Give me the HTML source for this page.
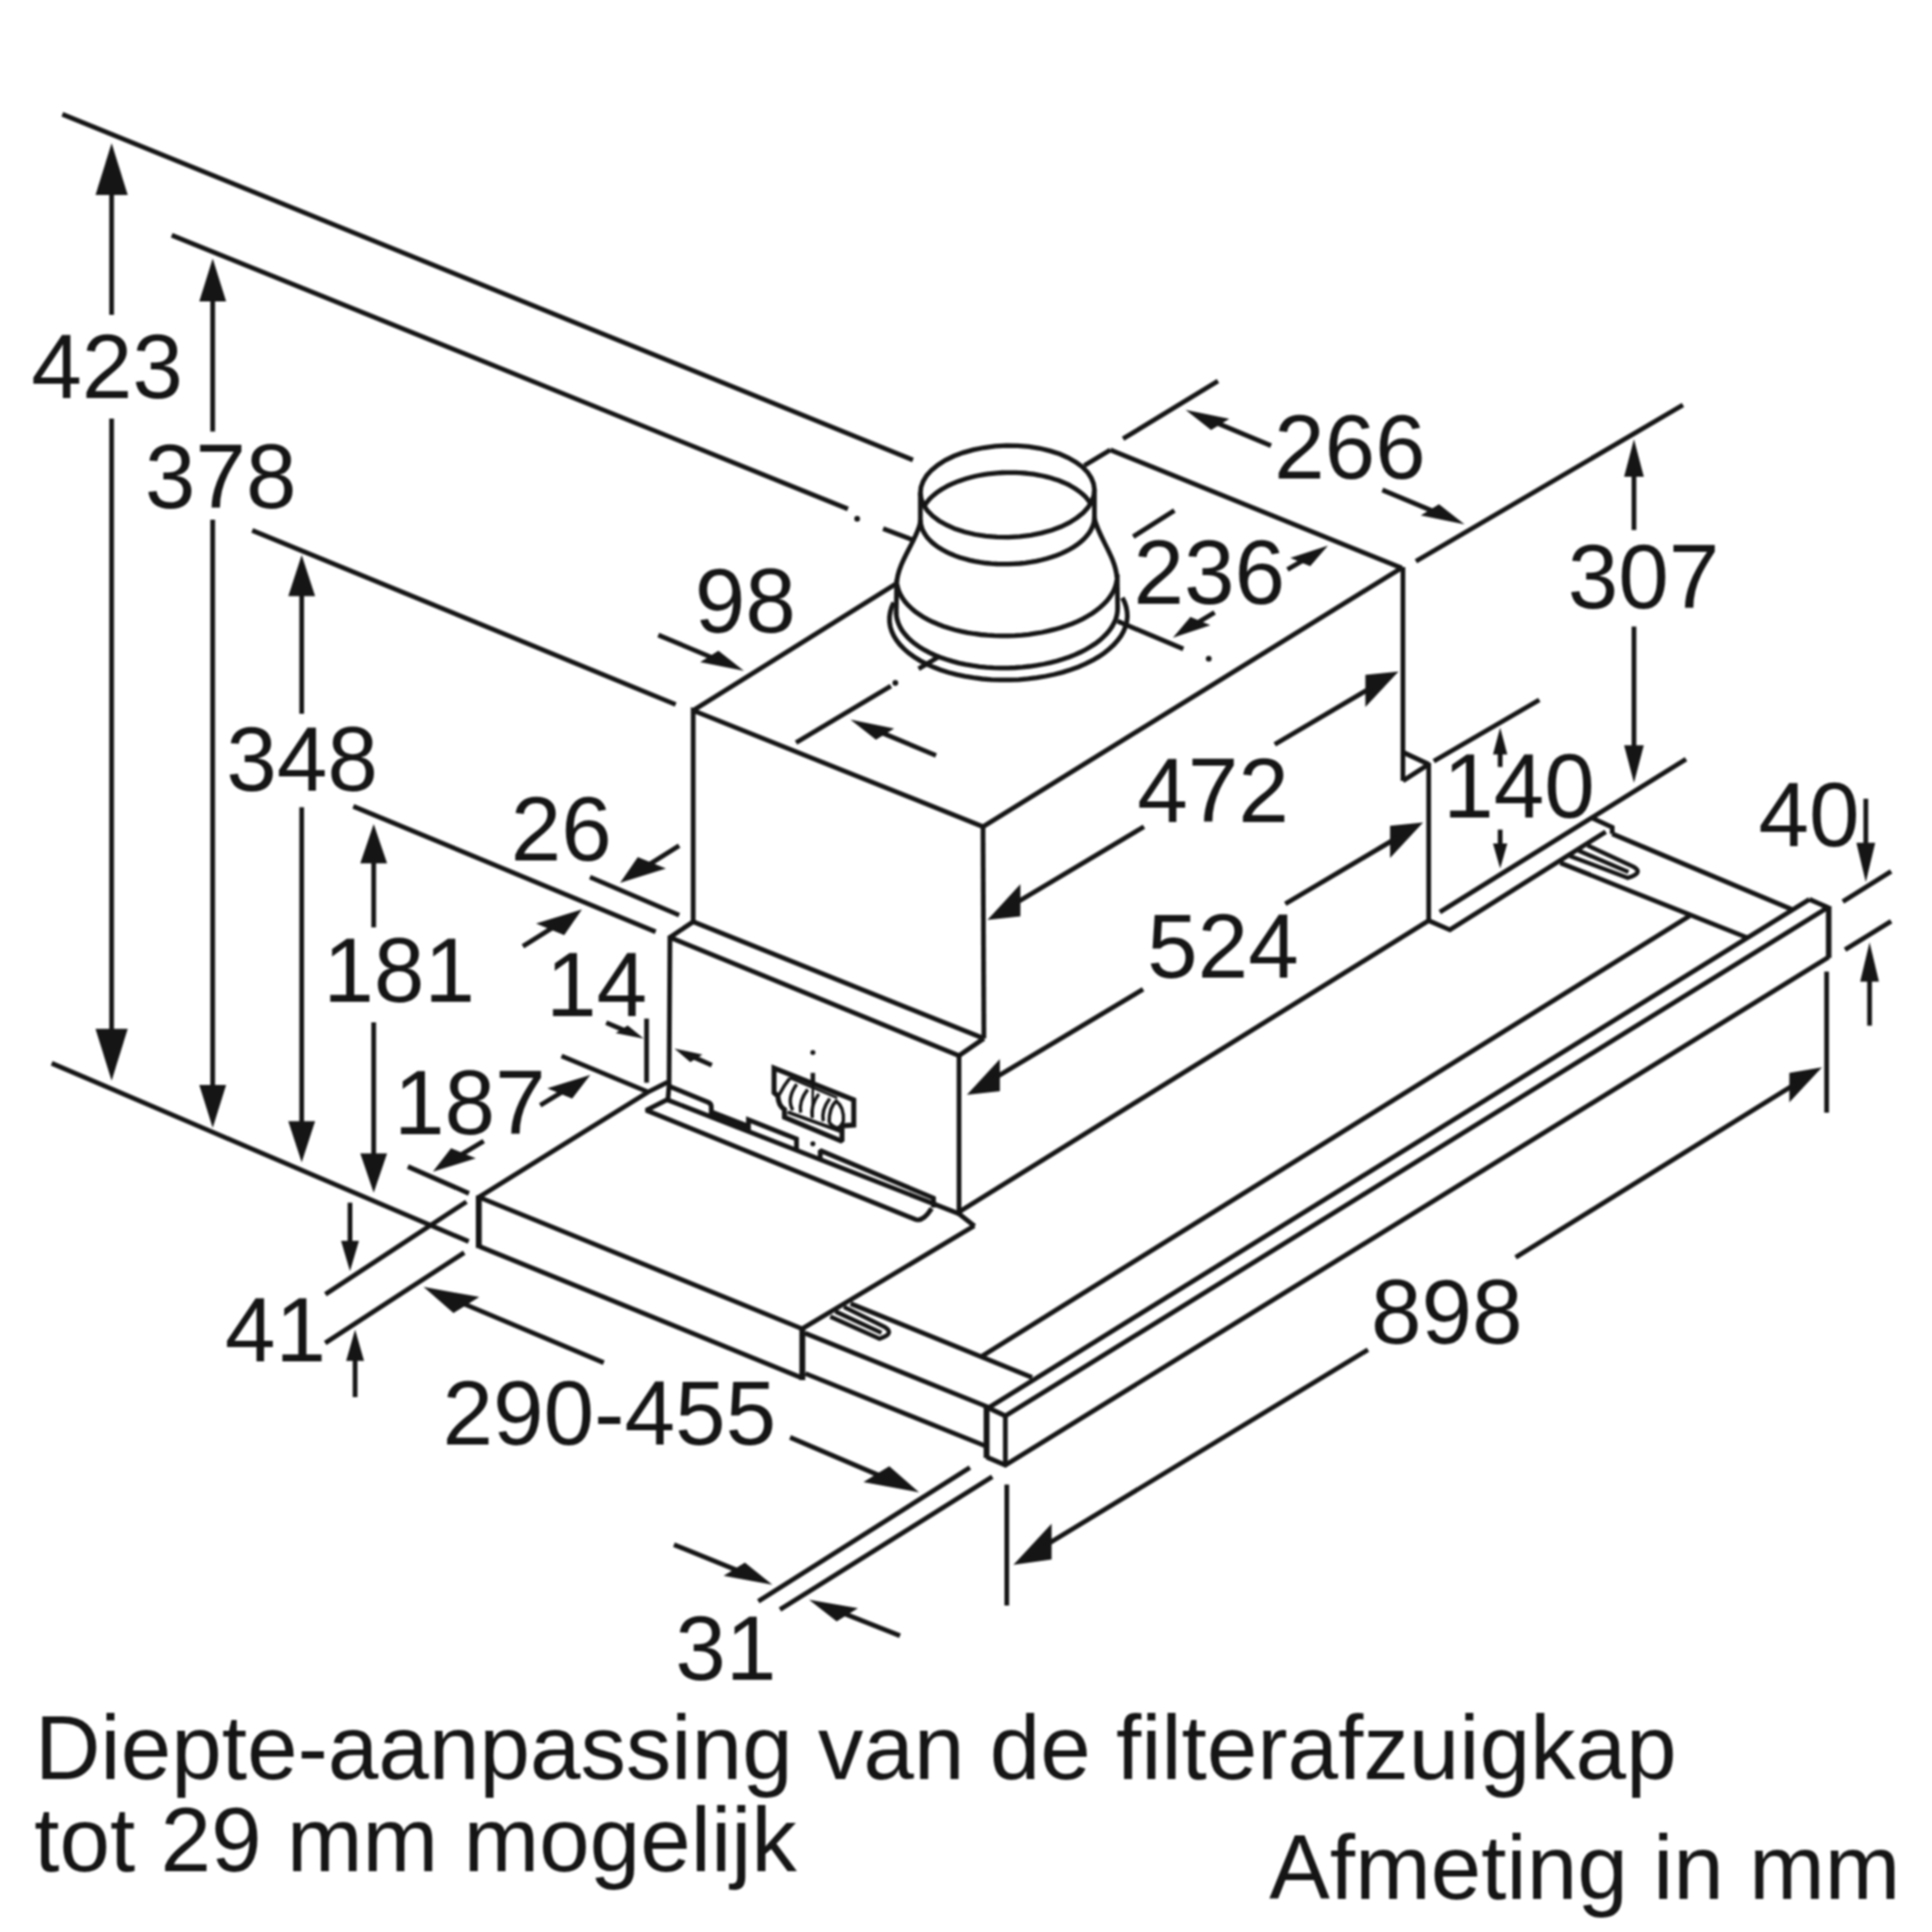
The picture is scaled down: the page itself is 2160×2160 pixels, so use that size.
<!DOCTYPE html>
<html lang="nl">
<head>
<meta charset="utf-8">
<title>Afmeting in mm</title>
<style>
html,body{margin:0;padding:0;background:#fff;}
body{width:2160px;height:2160px;overflow:hidden;}
svg{display:block;filter:blur(0.9px);}
svg line,svg polyline,svg polygon,svg path,svg ellipse{fill:none;stroke:#151515;stroke-width:5.3;stroke-linecap:butt;stroke-linejoin:miter;stroke-miterlimit:1.8;}
svg polygon.h{fill:#151515;stroke:none;}
svg text{font-family:"Liberation Sans",sans-serif;font-size:101.6px;fill:#151515;stroke:none;font-kerning:none;font-variant-ligatures:none;}
</style>
</head>
<body>
<svg width="2160" height="2160" viewBox="0 0 2160 2160">
<rect x="0" y="0" width="2160" height="2160" fill="#fff" stroke="none"/>
<line x1="69.7" y1="127.8" x2="1020.7" y2="514.2"/>
<line x1="192" y1="263" x2="948" y2="569"/>
<circle cx="958.3" cy="580" r="3.2" fill="#151515" stroke="none"/>
<line x1="987.3" y1="591" x2="1019.7" y2="603.3"/>
<line x1="282" y1="593" x2="755.4" y2="787.6"/>
<line x1="395" y1="901.5" x2="733" y2="1041.8"/>
<line x1="659.6" y1="980.6" x2="759.3" y2="1023.1"/>
<line x1="627.8" y1="1180.6" x2="723.5" y2="1220.4"/>
<line x1="456" y1="1304.2" x2="524.3" y2="1334.2"/>
<line x1="57.8" y1="1188.8" x2="524" y2="1388"/>
<polygon class="h" points="124.8,160 142.8,218 106.8,218"/>
<polygon class="h" points="124.8,1208.2 106.8,1150.2 142.8,1150.2"/>
<line x1="124.8" y1="206.4" x2="124.8" y2="352"/>
<line x1="124.8" y1="468" x2="124.8" y2="1161.8"/>
<polygon class="h" points="237.8,289 252.8,337 222.8,337"/>
<polygon class="h" points="237.8,1261 222.8,1213 252.8,1213"/>
<line x1="237.8" y1="327.4" x2="237.8" y2="482.6"/>
<line x1="237.8" y1="581" x2="237.8" y2="1222.6"/>
<polygon class="h" points="337.3,620.5 352.3,666.5 322.3,666.5"/>
<polygon class="h" points="337.3,1299.5 322.3,1253.5 352.3,1253.5"/>
<line x1="337.3" y1="657.3" x2="337.3" y2="798"/>
<line x1="337.3" y1="902.6" x2="337.3" y2="1262.7"/>
<polygon class="h" points="417.8,921.2 432.8,965.2 402.8,965.2"/>
<polygon class="h" points="417.8,1333.6 402.8,1289.6 432.8,1289.6"/>
<line x1="417.8" y1="956.4" x2="417.8" y2="1036.8"/>
<line x1="417.8" y1="1143" x2="417.8" y2="1298.4"/>
<polygon class="h" points="1826.8,491 1837.8,533 1815.8,533"/>
<polygon class="h" points="1826.8,875.2 1815.8,833.2 1837.8,833.2"/>
<line x1="1826.8" y1="524.6" x2="1826.8" y2="592.6"/>
<line x1="1826.8" y1="700.6" x2="1826.8" y2="841.6"/>
<polygon class="h" points="1677.2,813.5 1685.2,843.5 1669.2,843.5"/>
<line x1="1677.2" y1="857.5" x2="1677.2" y2="837.5"/>
<polygon class="h" points="1677.2,971 1669.2,943 1685.2,943"/>
<line x1="1677.2" y1="927.5" x2="1677.2" y2="948.6"/>
<polygon class="h" points="2086,986.3 2075.5,942.3 2096.5,942.3"/>
<line x1="2086" y1="893" x2="2086" y2="951.1"/>
<polygon class="h" points="2090.2,1053.6 2100.7,1097.6 2079.7,1097.6"/>
<line x1="2090.2" y1="1146.7" x2="2090.2" y2="1088.8"/>
<polygon class="h" points="391.3,1421.2 381.3,1387.2 401.3,1387.2"/>
<line x1="391.3" y1="1344.6" x2="391.3" y2="1394"/>
<polygon class="h" points="397,1486.4 407,1521.4 387,1521.4"/>
<line x1="397" y1="1562" x2="397" y2="1514.4"/>
<polygon class="h" points="1325.5,458.3 1374.4,468.2 1354,480.8"/>
<line x1="1421" y1="498.3" x2="1356.5" y2="471.3"/>
<polygon class="h" points="1637.4,586.2 1608.8,563.7 1588.4,576.3"/>
<line x1="1545.5" y1="547.8" x2="1606.4" y2="573.2"/>
<polygon class="h" points="1484.7,610.1 1464.8,632.9 1442.6,623.8"/>
<line x1="1439.4" y1="636.8" x2="1459.9" y2="624.7"/>
<polygon class="h" points="1311.3,713.1 1353.2,698.9 1330.9,689.8"/>
<line x1="1357.9" y1="684.7" x2="1335.9" y2="698.1"/>
<polygon class="h" points="831.7,750.1 803.2,727.5 782.8,740.2"/>
<line x1="736" y1="710" x2="800.7" y2="737.1"/>
<polygon class="h" points="950.8,804.5 999.7,814.4 979.3,827.1"/>
<line x1="1046.5" y1="844.6" x2="981.8" y2="817.5"/>
<polygon class="h" points="693.3,986.9 744.6,971 713.1,958.2"/>
<line x1="759.3" y1="945.5" x2="721.8" y2="969"/>
<polygon class="h" points="650.6,1016.7 630.8,1045.4 599.3,1032.6"/>
<line x1="584.6" y1="1058.1" x2="622.1" y2="1034.6"/>
<polygon class="h" points="719.8,1161.3 701.8,1146.5 688.2,1154.9"/>
<line x1="677.8" y1="1143.4" x2="699.9" y2="1152.8"/>
<polygon class="h" points="753.9,1172.2 785.4,1178.9 771.8,1187.4"/>
<line x1="795.8" y1="1190.8" x2="773.6" y2="1181"/>
<polygon class="h" points="660,1201.7 639.7,1228.2 611.9,1216.8"/>
<line x1="604" y1="1235.8" x2="632.7" y2="1218.3"/>
<polygon class="h" points="483.9,1310 532,1295 504.3,1283.7"/>
<line x1="540.8" y1="1275.7" x2="511.3" y2="1293.5"/>
<polygon class="h" points="1103.9,1028.6 1140.8,1024.6 1140.8,988.6"/>
<line x1="1279" y1="924.2" x2="1133.4" y2="1011"/>
<polygon class="h" points="1563.6,750.7 1526.5,790.5 1526.5,754.5"/>
<line x1="1425.2" y1="832.2" x2="1534" y2="768.2"/>
<polygon class="h" points="1081,1224 1117.9,1219.9 1117.9,1183.9"/>
<line x1="1278" y1="1106" x2="1110.5" y2="1206.3"/>
<polygon class="h" points="1591.1,919.4 1554.1,959.3 1554.1,923.3"/>
<line x1="1437" y1="1010.5" x2="1561.5" y2="936.9"/>
<polygon class="h" points="1133,1749.5 1175.7,1743.6 1175.7,1703.6"/>
<line x1="1529.4" y1="1509" x2="1167.2" y2="1728.8"/>
<polygon class="h" points="2037,1193.3 2000.5,1232.5 2000.5,1199.5"/>
<line x1="1694.5" y1="1405.7" x2="2007.8" y2="1211.4"/>
<polygon class="h" points="473.5,1438.8 535.9,1450 507,1467.9"/>
<line x1="675" y1="1523.5" x2="511.8" y2="1454.9"/>
<polygon class="h" points="1027.6,1668.5 994.2,1639.2 965.3,1657.1"/>
<line x1="883.3" y1="1607" x2="989.3" y2="1652.2"/>
<polygon class="h" points="863.5,1771.7 832.8,1747 809,1761.8"/>
<line x1="753.5" y1="1727" x2="829.4" y2="1757.8"/>
<polygon class="h" points="904.5,1788.5 959.2,1798 935.4,1812.8"/>
<line x1="1006.2" y1="1828.7" x2="938.7" y2="1802"/>
<line x1="1255.6" y1="490.6" x2="1361.7" y2="426"/>
<line x1="1583" y1="627.5" x2="1881.6" y2="452.8"/>
<line x1="1267" y1="600" x2="1313" y2="570.8"/>
<line x1="1249.5" y1="694.5" x2="1323" y2="725.5"/>
<circle cx="1351.4" cy="736.4" r="3.2" fill="#151515" stroke="none"/>
<line x1="890" y1="830.3" x2="996" y2="767"/>
<circle cx="1001" cy="763.5" r="3.2" fill="#151515" stroke="none"/>
<line x1="1027" y1="747.8" x2="1050" y2="734"/>
<line x1="1603" y1="851" x2="1721" y2="782.5"/>
<line x1="1609.7" y1="1019.8" x2="1885" y2="848.8"/>
<line x1="2060.3" y1="1008" x2="2114.3" y2="974.2"/>
<line x1="2062.8" y1="1061.8" x2="2114.3" y2="1029.9"/>
<line x1="363.8" y1="1447" x2="521.5" y2="1343.6"/>
<line x1="363.6" y1="1501.5" x2="519" y2="1400.5"/>
<line x1="847.8" y1="1790.3" x2="1084.4" y2="1640.7"/>
<line x1="872" y1="1799.6" x2="1109.4" y2="1651"/>
<line x1="1125.6" y1="1659.8" x2="1125.6" y2="1795"/>
<line x1="2042.2" y1="1086.3" x2="2042.2" y2="1244"/>
<line x1="722.9" y1="1138.8" x2="722.9" y2="1210.5"/>
<line x1="775" y1="794.3" x2="1001.3" y2="653.1"/>
<line x1="1212.3" y1="520.5" x2="1241.4" y2="503"/>
<polyline points="1241.4,503 1567,635 1099,924.2 775,794.3 775,1031"/>
<polyline points="1099,924.2 1100,1161"/>
<line x1="775" y1="1030.5" x2="1100" y2="1161"/>
<line x1="1568.5" y1="634" x2="1568.5" y2="873"/>
<polyline points="1568.5,841 1597.3,854.5 1568.5,873"/>
<polyline points="775,1030.5 749,1048 1072.2,1180.3 1100,1161"/>
<polyline points="749,1046 748,1214 746.6,1231"/>
<line x1="1072.2" y1="1179" x2="1072.2" y2="1357"/>
<line x1="1597.3" y1="853" x2="1597.3" y2="1029.5"/>
<line x1="1072.2" y1="1355" x2="1597.3" y2="1029.2"/>
<polyline points="1597.3,1029.2 1621,1039.6 1795.2,930"/>
<polyline points="1223.6,547.4 1222.9,554.1 1220.5,560.7 1216.6,567.1 1211.1,573.2 1204.1,578.9 1195.8,584.2 1186.4,588.8 1175.9,592.7 1164.5,595.9 1152.5,598.3 1140.1,599.9 1127.4,600.6 1114.7,600.4 1102.2,599.4 1090.1,597.5 1078.6,594.7 1067.9,591.3 1058.3,587 1049.8,582.2 1042.6,576.8 1036.8,570.9 1032.6,564.6 1030,558.1 1029,551.4 1029.7,544.7 1032.1,538.1 1036,531.7 1041.5,525.6 1048.5,519.9 1056.8,514.6 1066.2,510 1076.7,506.1 1088.1,502.9 1100.1,500.5 1112.5,498.9 1125.2,498.2 1137.9,498.4 1150.4,499.4 1162.5,501.3 1174,504.1 1184.7,507.5 1194.3,511.8 1202.8,516.6 1210,522 1215.8,527.9 1220,534.2 1222.6,540.7 1223.6,547.4"/>
<polyline points="1223.6,577.5 1223.4,580.8 1222.9,584.2 1221.9,587.5 1220.5,590.8 1218.8,594 1216.6,597.2 1214,600.3 1211.1,603.3 1207.8,606.2 1204.1,609 1200.1,611.7 1195.8,614.3 1191.2,616.6 1186.4,618.9 1181.2,620.9 1175.9,622.8 1170.3,624.5 1164.5,626 1158.6,627.3 1152.5,628.4 1146.3,629.3 1140.1,630 1133.7,630.4 1127.4,630.7 1121,630.7 1114.7,630.5 1108.4,630.1 1102.2,629.5 1096,628.6 1090.1,627.6 1084.2,626.3 1078.6,624.8 1073.1,623.2 1067.9,621.4 1063,619.3 1058.3,617.1 1053.9,614.8 1049.8,612.3 1046,609.6 1042.6,606.9 1039.5,604 1036.8,601 1034.5,597.9 1032.6,594.7 1031.1,591.5 1030,588.2 1029.3,584.9 1029,581.5"/>
<polyline points="1033,566.5 1034.5,563.9 1036.4,561.3 1038.5,558.8 1040.8,556.3 1043.4,553.9 1046.2,551.6 1049.3,549.4 1052.5,547.2 1056,545.2 1059.7,543.2 1063.5,541.3 1067.6,539.6 1071.8,537.9 1076.1,536.4 1080.6,535 1085.2,533.7 1090,532.5 1094.8,531.5 1099.7,530.6 1104.7,529.9 1109.8,529.3 1114.9,528.8 1120.1,528.5 1125.2,528.3 1130.4,528.3 1135.5,528.4 1140.7,528.6 1145.8,529 1150.8,529.6 1155.7,530.2 1160.6,531.1 1165.4,532 1170.1,533.1 1174.6,534.3 1179,535.7 1183.3,537.1 1187.4,538.7 1191.3,540.4 1195.1,542.2 1198.6,544.2 1202,546.2 1205.1,548.3 1208,550.5 1210.7,552.8 1213.2,555.1 1215.4,557.6 1217.3,560 1219,562.6"/>
<polyline points="1248.7,648.2 1248,652.3 1246.8,656.3 1245.2,660.2 1243,664.2 1240.5,668 1237.5,671.8 1234,675.4 1230.1,679 1225.8,682.4 1221.2,685.7 1216.1,688.8 1210.7,691.8 1205,694.6 1198.9,697.2 1192.6,699.5 1186,701.7 1179.1,703.7 1172.1,705.4 1164.9,707 1157.5,708.2 1150,709.3 1142.4,710.1 1134.7,710.6 1127.1,710.9 1119.4,710.9 1111.7,710.7 1104.1,710.2 1096.5,709.5 1089.1,708.5 1081.8,707.3 1074.7,705.9 1067.8,704.2 1061.1,702.3 1054.7,700.2 1048.5,697.8 1042.7,695.3 1037.2,692.6 1032,689.7 1027.2,686.6 1022.7,683.3 1018.7,679.9 1015.1,676.4 1011.9,672.8 1009.2,669.1 1006.9,665.2 1005.1,661.3 1003.8,657.4 1002.9,653.4"/>
<polyline points="1249.5,679.6 1249.3,683.8 1248.6,688.1 1247.4,692.3 1245.6,696.4 1243.3,700.5 1240.6,704.5 1237.3,708.4 1233.6,712.2 1229.4,715.9 1224.7,719.5 1219.6,722.8 1214.2,726 1208.3,729 1202.1,731.9 1195.6,734.5 1188.8,736.8 1181.7,739 1174.3,740.9 1166.8,742.5 1159,743.9 1151.2,745 1143.2,745.9 1135.1,746.5 1127.1,746.8 1119,746.8 1110.9,746.6 1102.9,746.1 1095,745.3 1087.2,744.2 1079.6,742.9 1072.2,741.3 1065,739.4 1058.1,737.3 1051.4,735 1045.1,732.5 1039.1,729.7 1033.5,726.7 1028.3,723.6 1023.5,720.2 1019.2,716.7 1015.3,713.1 1011.9,709.3 1008.9,705.4 1006.5,701.4 1004.6,697.3 1003.2,693.2 1002.3,689 1001.9,684.8"/>
<polyline points="1254.8,668.2 1257.4,673.4 1259.1,678.7 1260.1,684.1 1260.4,689.5 1259.8,694.8 1258.4,700.2 1256.3,705.5 1253.4,710.7 1249.7,715.8 1245.3,720.8 1240.2,725.5 1234.5,730.1 1228.1,734.4 1221.1,738.5 1213.6,742.2 1205.5,745.7 1197,748.8 1188,751.6 1178.7,754 1169.2,756 1159.3,757.7 1149.3,758.9 1139.1,759.8 1128.9,760.2 1118.6,760.2 1108.4,759.8 1098.3,759 1088.4,757.7 1078.8,756.1 1069.4,754.1 1060.3,751.7 1051.7,748.9 1043.5,745.8 1035.8,742.3 1028.7,738.6 1022.1,734.5 1016.1,730.2 1010.9,725.7 1006.3,720.9 1002.4,716 999.3,710.9 996.9,705.7 995.3,700.4 994.5,695 994.5,689.6 995.3,684.2 996.8,678.9 999.2,673.6"/>
<line x1="1029" y1="551" x2="1029" y2="584"/>
<line x1="1223.6" y1="547" x2="1223.6" y2="580"/>
<path d="M1029,584 C1024,606 1004,628 1002.5,652"/>
<path d="M1223.6,580 C1229,602 1247,622 1248.8,646"/>
<line x1="1002.5" y1="648" x2="1002" y2="686"/>
<line x1="1249" y1="642" x2="1249.5" y2="680"/>
<polyline points="746.4,1209.8 724.4,1221 535.3,1338.4 896.9,1485.6 1089.2,1370.4"/>
<line x1="535.3" y1="1336.5" x2="535.3" y2="1395.3" style="stroke-width:6.6"/>
<line x1="535.3" y1="1393.3" x2="896.5" y2="1540.5"/>
<line x1="897" y1="1483.5" x2="897" y2="1543" style="stroke-width:6.6"/>
<line x1="746.4" y1="1229.7" x2="1072.2" y2="1357"/>
<line x1="1071" y1="1356.2" x2="1089.6" y2="1370.8"/>
<path d="M745.5,1229.7 L722.4,1241.3 L1024,1363.5 Q1032,1366 1041.6,1351"/>
<path d="M748.9,1214.8 L792,1232.5 Q795.2,1234 795.2,1237 L795.2,1246"/>
<line x1="793" y1="1244.5" x2="836.8" y2="1261.5" style="stroke-width:9.5"/>
<polyline points="836.8,1264 836.8,1252 890.5,1273.4 890.5,1285.4"/>
<polyline points="917,1298 917,1286.2 1043.7,1339.4 1043.7,1350"/>
<path d="M941.4,1258.6 L954.5,1257.8 L954.5,1229.6 L865.4,1194.1 L865.4,1221.6 Q868,1224 869.7,1225 C870,1234 873,1238 877,1240.4 L877,1249.1 L941.4,1276 L941.4,1258.6" style="stroke-width:5.6"/>
<path d="M880.6,1243.3 L940.7,1265.1" style="stroke-width:4"/>
<path d="M882.5,1205 L936,1227.5" style="stroke-width:2.8"/>
<path d="M882.8,1205.7 Q876,1214 871.2,1223.8" style="stroke-width:3.8"/>
<path d="M890.7,1212.2 Q879,1229 886.4,1241.2" style="stroke-width:3.8"/>
<path d="M903,1218 Q893,1231 895.1,1244" style="stroke-width:3.8"/>
<path d="M915.4,1223 Q906,1236 908.1,1249.1" style="stroke-width:3.8"/>
<path d="M927.7,1228.1 Q918,1241 920.4,1253.5" style="stroke-width:3.8"/>
<path d="M927,1254.9 Q927,1238 934.9,1231 Q944,1238 942.9,1253.5 Q939,1262 934.9,1260.7 Q930,1259 927,1254.9" style="stroke-width:3.8"/>
<circle cx="908.8" cy="1176.7" r="2.8" fill="#151515" stroke="none"/>
<line x1="908.8" y1="1199.5" x2="908.8" y2="1213.5" style="stroke-width:5"/>
<line x1="908.8" y1="1213.5" x2="908.4" y2="1250" style="stroke-width:2.8"/>
<circle cx="908.8" cy="1278.8" r="2.8" fill="#151515" stroke="none"/>
<polyline points="900,1490.5 1104,1572.9"/>
<line x1="900.4" y1="1535.6" x2="1101.2" y2="1616.4"/>
<line x1="951" y1="1457.5" x2="1153.9" y2="1540"/>
<line x1="1097" y1="1516.7" x2="1889" y2="1024"/>
<polyline points="2023,1005.5 1105,1574"/>
<polyline points="2043.6,1014.5 1124,1583 1105,1574"/>
<polyline points="2044.5,1070 1124,1638 1103,1629"/>
<line x1="1103" y1="1571" x2="1103" y2="1630" style="stroke-width:6.6"/>
<line x1="1124" y1="1583" x2="1124" y2="1638"/>
<line x1="2044.5" y1="1013" x2="2044.5" y2="1071" style="stroke-width:6.2"/>
<polyline points="2023,1005.5 2044.5,1015"/>
<line x1="1802.5" y1="932.2" x2="2004" y2="1017"/>
<line x1="1744.5" y1="964.8" x2="1953.6" y2="1048.4"/>
<polyline points="1780.7,914.8 1802.5,924.9 1802.5,932.2"/>
<path d="M943.5,1461.2 L989.1,1483.6 Q1001,1491 983.3,1496.7 L928.3,1472" style="stroke-width:4.8"/>
<line x1="934" y1="1466.2" x2="985.5" y2="1490.1" style="stroke-width:4.8"/>
<path d="M1774.9,945.2 L1826.4,969.1 Q1838,976 1819.9,981.4 L1755,957" style="stroke-width:4.8"/>
<line x1="1764.8" y1="951" x2="1820.6" y2="974.9" style="stroke-width:4.8"/>
<text x="35" y="445">423</text>
<text x="161.9" y="568">378</text>
<text x="252.9" y="884">348</text>
<text x="361.4" y="1120">181</text>
<text x="570.9" y="962.3">26</text>
<text x="610.4" y="1135.7">14</text>
<text x="440.4" y="1268">187</text>
<text x="776.7" y="707.4">98</text>
<text x="1267.2" y="675">236</text>
<text x="1424.4" y="534.6">266</text>
<text x="1752.7" y="679.5">307</text>
<text x="1271.4" y="919.4">472</text>
<text x="1282.4" y="1092.7">524</text>
<text x="1613.4" y="914.2">140</text>
<text x="1966" y="946">40</text>
<text x="1532.8" y="1501.5">898</text>
<text x="251.4" y="1522">41</text>
<text x="494.8" y="1615.2">290-455</text>
<text x="754.9" y="1877.9">31</text>
<text x="39" y="1989.3">Diepte-aanpassing van de filterafzuigkap</text>
<text x="38.3" y="2091.5">tot 29 mm mogelijk</text>
<text x="1419" y="2123.3">Afmeting in mm</text>
</svg>
</body>
</html>
